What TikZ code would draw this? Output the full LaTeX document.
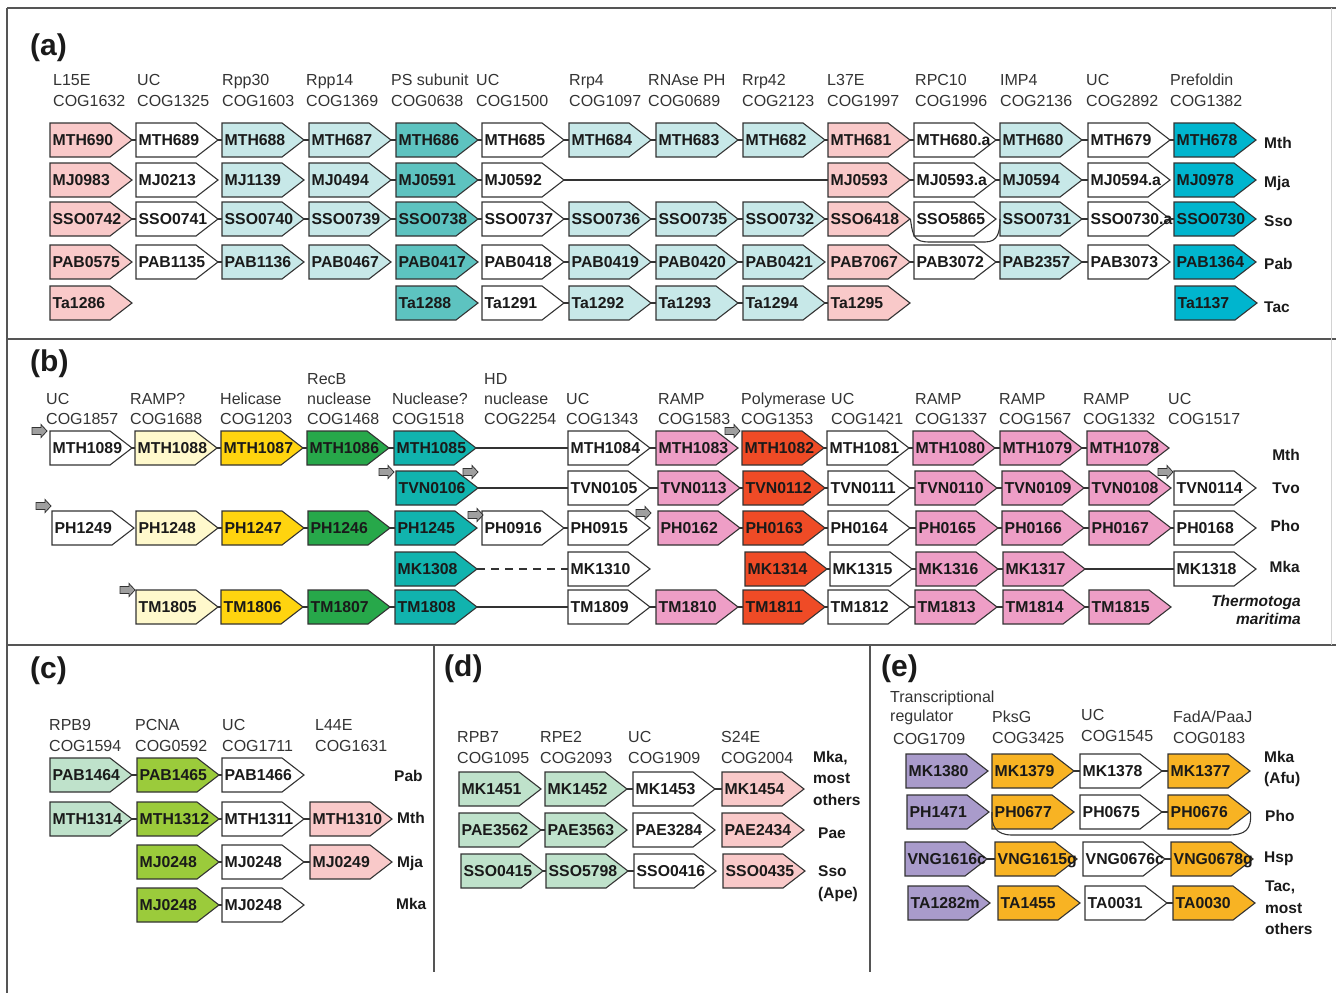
\documentclass[tikz,border=0pt]{standalone}
\usepackage{fontspec}
\setmainfont{Liberation Sans}
\definecolor{pinkA}{HTML}{F9C9C9}
\definecolor{lcyan}{HTML}{C7E8E8}
\definecolor{tealA}{HTML}{5DC3C0}
\definecolor{cyanA}{HTML}{00B5CE}
\definecolor{lyel}{HTML}{FFF9CC}
\definecolor{yelB}{HTML}{FFD40F}
\definecolor{grnB}{HTML}{27A84A}
\definecolor{tealB}{HTML}{11B3AE}
\definecolor{pinkB}{HTML}{EE9EC6}
\definecolor{redB}{HTML}{EF4B26}
\definecolor{lgrn}{HTML}{BFE2CB}
\definecolor{ygrn}{HTML}{9BCB3B}
\definecolor{lav}{HTML}{A99BCB}
\definecolor{orgE}{HTML}{F8B323}
\definecolor{linec}{HTML}{333333}
\definecolor{txtc}{HTML}{1A1A1A}
\definecolor{hdrc}{HTML}{333333}
\definecolor{framec}{HTML}{555555}
\tikzset{
  genefr/.style={draw=linec, line width=1.1pt, line join=miter},
  genetxt/.style={anchor=west, inner xsep=2.5pt, inner ysep=0pt, text width=77pt, align=left, minimum height=34pt, font=\fontsize{15.8}{18}\selectfont\bfseries, text=txtc, text height=11.4pt, text depth=0pt},
  conn/.style={draw=linec, line width=1.1pt},
  hdr/.style={anchor=west, inner sep=0pt, font=\fontsize{16}{19}\selectfont, text=hdrc, text height=11.5pt, text depth=0pt},
  spc/.style={anchor=west, inner sep=0pt, font=\fontsize{15.5}{18}\selectfont\bfseries, text=txtc, text height=11.1pt, text depth=0pt},
  spcr/.style={spc, anchor=east},
  plab/.style={anchor=west, inner sep=0pt, font=\fontsize{30}{34}\selectfont\bfseries, text=txtc},
  promo/.style={fill=gray!75, draw=linec, line width=0.8pt, line join=miter},
  framel/.style={draw=framec, line width=1.2pt},
}
\newcommand\gene[5]{%
  \filldraw[genefr, fill=#4] (#2,#3-17) -- (#2+60,#3-17) -- (#2+82,#3) -- (#2+60,#3+17) -- (#2,#3+17) -- cycle;
  \node[genetxt] (#1) at (#2,#3) {#5};}
\newcommand\cn[2]{\draw[conn] (#1.east) -- (#2.west);}
\newcommand\prom[2]{\filldraw[promo] (#1,#2-3.5) -- (#1+9,#2-3.5) -- (#1+9,#2-6.5) -- (#1+15,#2) -- (#1+9,#2+6.5) -- (#1+9,#2+3.5) -- (#1,#2+3.5) -- cycle;}
\newcommand\hdl[4]{\node[hdr] (#1) at (#2,#3) {#4};}
\begin{document}
\begin{tikzpicture}[x=1pt,y=-1pt]
\useasboundingbox (0,0) rectangle (1336,993);
% frame
\draw[framel] (7,8) -- (1336,8);
\draw[framel] (7,8) -- (7,993);
\draw[framel] (7,339) -- (1336,339);
\draw[framel] (7,645) -- (1336,645);
\draw[framel] (434,645) -- (434,972);
\draw[framel] (870,645) -- (870,972);
\draw[draw=gray!35, line width=0.8pt] (1331,8) -- (1331,645);
% panel labels
\node[plab] (pa) at (30,47.5) {(a)};
\node[plab] (pb) at (30,363.5) {(b)};
\node[plab] (pc) at (30,671) {(c)};
\node[plab] (pd) at (444,669) {(d)};
\node[plab] (pe) at (881,669) {(e)};
%================ panel a headers
\hdl{ha0x}{53}{79.5}{L15E}\hdl{ha0y}{53}{101}{COG1632}
\hdl{ha1x}{137}{79.5}{UC}\hdl{ha1y}{137}{101}{COG1325}
\hdl{ha2x}{222}{79.5}{Rpp30}\hdl{ha2y}{222}{101}{COG1603}
\hdl{ha3x}{306}{79.5}{Rpp14}\hdl{ha3y}{306}{101}{COG1369}
\hdl{ha4x}{391}{79.5}{PS subunit}\hdl{ha4y}{391}{101}{COG0638}
\hdl{ha5x}{476}{79.5}{UC}\hdl{ha5y}{476}{101}{COG1500}
\hdl{ha6x}{569}{79.5}{Rrp4}\hdl{ha6y}{569}{101}{COG1097}
\hdl{ha7x}{648}{79.5}{RNAse PH}\hdl{ha7y}{648}{101}{COG0689}
\hdl{ha8x}{742}{79.5}{Rrp42}\hdl{ha8y}{742}{101}{COG2123}
\hdl{ha9x}{827}{79.5}{L37E}\hdl{ha9y}{827}{101}{COG1997}
\hdl{ha10x}{915}{79.5}{RPC10}\hdl{ha10y}{915}{101}{COG1996}
\hdl{ha11x}{1000}{79.5}{IMP4}\hdl{ha11y}{1000}{101}{COG2136}
\hdl{ha12x}{1086}{79.5}{UC}\hdl{ha12y}{1086}{101}{COG2892}
\hdl{ha13x}{1170}{79.5}{Prefoldin}\hdl{ha13y}{1170}{101}{COG1382}
% row Mth
\gene{a1c0}{50}{140}{pinkA}{MTH690}
\gene{a1c1}{136}{140}{white}{MTH689}
\gene{a1c2}{222}{140}{lcyan}{MTH688}
\gene{a1c3}{309}{140}{lcyan}{MTH687}
\gene{a1c4}{396}{140}{tealA}{MTH686}
\gene{a1c5}{482}{140}{white}{MTH685}
\gene{a1c6}{569}{140}{lcyan}{MTH684}
\gene{a1c7}{656}{140}{lcyan}{MTH683}
\gene{a1c8}{743}{140}{lcyan}{MTH682}
\gene{a1c9}{828}{140}{pinkA}{MTH681}
\gene{a1c10}{914}{140}{white}{MTH680.a}
\gene{a1c11}{1000}{140}{lcyan}{MTH680}
\gene{a1c12}{1088}{140}{white}{MTH679}
\gene{a1c13}{1174}{140}{cyanA}{MTH678}
\cn{a1c0}{a1c1}\cn{a1c1}{a1c2}\cn{a1c2}{a1c3}\cn{a1c3}{a1c4}\cn{a1c4}{a1c5}\cn{a1c5}{a1c6}\cn{a1c6}{a1c7}
\cn{a1c7}{a1c8}\cn{a1c8}{a1c9}\cn{a1c9}{a1c10}\cn{a1c10}{a1c11}\cn{a1c11}{a1c12}\cn{a1c12}{a1c13}
% row Mja
\gene{a2c0}{50}{180}{pinkA}{MJ0983}
\gene{a2c1}{136}{180}{white}{MJ0213}
\gene{a2c2}{222}{180}{lcyan}{MJ1139}
\gene{a2c3}{309}{180}{lcyan}{MJ0494}
\gene{a2c4}{396}{180}{tealA}{MJ0591}
\gene{a2c5}{482}{180}{white}{MJ0592}
\gene{a2c9}{828}{180}{pinkA}{MJ0593}
\gene{a2c10}{914}{180}{white}{MJ0593.a}
\gene{a2c11}{1000}{180}{lcyan}{MJ0594}
\gene{a2c12}{1088}{180}{white}{MJ0594.a}
\gene{a2c13}{1174}{180}{cyanA}{MJ0978}
\cn{a2c3}{a2c4}\cn{a2c4}{a2c5}\cn{a2c5}{a2c9}\cn{a2c9}{a2c10}\cn{a2c10}{a2c11}\cn{a2c11}{a2c12}
% row Sso
\gene{a3c0}{50}{219}{pinkA}{SSO0742}
\gene{a3c1}{136}{219}{white}{SSO0741}
\gene{a3c2}{222}{219}{lcyan}{SSO0740}
\gene{a3c3}{309}{219}{lcyan}{SSO0739}
\gene{a3c4}{396}{219}{tealA}{SSO0738}
\gene{a3c5}{482}{219}{white}{SSO0737}
\gene{a3c6}{569}{219}{lcyan}{SSO0736}
\gene{a3c7}{656}{219}{lcyan}{SSO0735}
\gene{a3c8}{743}{219}{lcyan}{SSO0732}
\gene{a3c9}{828}{219}{pinkA}{SSO6418}
\gene{a3c10}{914}{219}{white}{SSO5865}
\gene{a3c11}{1000}{219}{lcyan}{SSO0731}
\gene{a3c12}{1088}{219}{white}{SSO0730.a}
\gene{a3c13}{1174}{219}{cyanA}{SSO0730}
\cn{a3c0}{a3c1}\cn{a3c1}{a3c2}\cn{a3c2}{a3c3}\cn{a3c3}{a3c4}\cn{a3c4}{a3c5}\cn{a3c5}{a3c6}\cn{a3c6}{a3c7}
\cn{a3c7}{a3c8}\cn{a3c8}{a3c9}\cn{a3c11}{a3c12}\cn{a3c12}{a3c13}
\draw[conn] (a3c9.east) .. controls (913,237) and (914,242) .. (930,242) -- (985,242) .. controls (998,242) and (1000,232) .. (a3c11.west);
% row Pab
\gene{a4c0}{50}{262}{pinkA}{PAB0575}
\gene{a4c1}{136}{262}{white}{PAB1135}
\gene{a4c2}{222}{262}{lcyan}{PAB1136}
\gene{a4c3}{309}{262}{lcyan}{PAB0467}
\gene{a4c4}{396}{262}{tealA}{PAB0417}
\gene{a4c5}{482}{262}{white}{PAB0418}
\gene{a4c6}{569}{262}{lcyan}{PAB0419}
\gene{a4c7}{656}{262}{lcyan}{PAB0420}
\gene{a4c8}{743}{262}{lcyan}{PAB0421}
\gene{a4c9}{828}{262}{pinkA}{PAB7067}
\gene{a4c10}{914}{262}{white}{PAB3072}
\gene{a4c11}{1000}{262}{lcyan}{PAB2357}
\gene{a4c12}{1088}{262}{white}{PAB3073}
\gene{a4c13}{1174}{262}{cyanA}{PAB1364}
\cn{a4c1}{a4c2}\cn{a4c5}{a4c6}\cn{a4c6}{a4c7}\cn{a4c7}{a4c8}\cn{a4c9}{a4c10}\cn{a4c10}{a4c11}\cn{a4c11}{a4c12}
% row Tac
\gene{a5c0}{50}{303}{pinkA}{Ta1286}
\gene{a5c4}{396}{303}{tealA}{Ta1288}
\gene{a5c5}{482}{303}{white}{Ta1291}
\gene{a5c6}{569}{303}{lcyan}{Ta1292}
\gene{a5c7}{656}{303}{lcyan}{Ta1293}
\gene{a5c8}{743}{303}{lcyan}{Ta1294}
\gene{a5c9}{828}{303}{pinkA}{Ta1295}
\gene{a5c13}{1175}{303}{cyanA}{Ta1137}
\cn{a5c5}{a5c6}\cn{a5c6}{a5c7}\cn{a5c7}{a5c8}\cn{a5c8}{a5c9}
% species a
\node[spc] (sa1) at (1264,142.5) {Mth};
\node[spc] (sa2) at (1264,182) {Mja};
\node[spc] (sa3) at (1264,220.5) {Sso};
\node[spc] (sa4) at (1264,263.5) {Pab};
\node[spc] (sa5) at (1264,307) {Tac};
%================ panel b headers
\hdl{hb0x}{46}{399}{UC}\hdl{hb0y}{46}{419}{COG1857}
\hdl{hb1x}{130}{399}{RAMP?}\hdl{hb1y}{130}{419}{COG1688}
\hdl{hb2x}{220}{399}{Helicase}\hdl{hb2y}{220}{419}{COG1203}
\hdl{hb3w}{307}{379}{RecB}\hdl{hb3x}{307}{399}{nuclease}\hdl{hb3y}{307}{419}{COG1468}
\hdl{hb4x}{392}{399}{Nuclease?}\hdl{hb4y}{392}{419}{COG1518}
\hdl{hb5w}{484}{379}{HD}\hdl{hb5x}{484}{399}{nuclease}\hdl{hb5y}{484}{419}{COG2254}
\hdl{hb6x}{566}{399}{UC}\hdl{hb6y}{566}{419}{COG1343}
\hdl{hb7x}{658}{399}{RAMP}\hdl{hb7y}{658}{419}{COG1583}
\hdl{hb8x}{741}{399}{Polymerase}\hdl{hb8y}{741}{419}{COG1353}
\hdl{hb9x}{831}{399}{UC}\hdl{hb9y}{831}{419}{COG1421}
\hdl{hb10x}{915}{399}{RAMP}\hdl{hb10y}{915}{419}{COG1337}
\hdl{hb11x}{999}{399}{RAMP}\hdl{hb11y}{999}{419}{COG1567}
\hdl{hb12x}{1083}{399}{RAMP}\hdl{hb12y}{1083}{419}{COG1332}
\hdl{hb13x}{1168}{399}{UC}\hdl{hb13y}{1168}{419}{COG1517}
% row Mth
\gene{b1c0}{50}{448}{white}{MTH1089}
\gene{b1c1}{135}{448}{lyel}{MTH1088}
\gene{b1c2}{221}{448}{yelB}{MTH1087}
\gene{b1c3}{307}{448}{grnB}{MTH1086}
\gene{b1c4}{394}{448}{tealB}{MTH1085}
\gene{b1c6}{568}{448}{white}{MTH1084}
\gene{b1c7}{656}{448}{pinkB}{MTH1083}
\gene{b1c8}{742}{448}{redB}{MTH1082}
\gene{b1c9}{827}{448}{white}{MTH1081}
\gene{b1c10}{913}{448}{pinkB}{MTH1080}
\gene{b1c11}{1000}{448}{pinkB}{MTH1079}
\gene{b1c12}{1087}{448}{pinkB}{MTH1078}
\cn{b1c0}{b1c1}\cn{b1c1}{b1c2}\cn{b1c2}{b1c3}\cn{b1c3}{b1c4}\cn{b1c4}{b1c6}\cn{b1c6}{b1c7}
\cn{b1c8}{b1c9}\cn{b1c9}{b1c10}\cn{b1c10}{b1c11}\cn{b1c11}{b1c12}
% row Tvo
\gene{b2c4}{396}{488}{tealB}{TVN0106}
\gene{b2c6}{568}{488}{white}{TVN0105}
\gene{b2c7}{658}{488}{pinkB}{TVN0113}
\gene{b2c8}{743}{488}{redB}{TVN0112}
\gene{b2c9}{828}{488}{white}{TVN0111}
\gene{b2c10}{915}{488}{pinkB}{TVN0110}
\gene{b2c11}{1002}{488}{pinkB}{TVN0109}
\gene{b2c12}{1089}{488}{pinkB}{TVN0108}
\gene{b2c13}{1174}{488}{white}{TVN0114}
\cn{b2c4}{b2c6}\cn{b2c6}{b2c7}\cn{b2c7}{b2c8}\cn{b2c8}{b2c9}\cn{b2c9}{b2c10}\cn{b2c10}{b2c11}\cn{b2c11}{b2c12}
% row Pho
\gene{b3c0}{52}{528}{white}{PH1249}
\gene{b3c1}{136}{528}{lyel}{PH1248}
\gene{b3c2}{222}{528}{yelB}{PH1247}
\gene{b3c3}{308}{528}{grnB}{PH1246}
\gene{b3c4}{395}{528}{tealB}{PH1245}
\gene{b3c5}{482}{528}{white}{PH0916}
\gene{b3c6}{568}{528}{white}{PH0915}
\gene{b3c7}{658}{528}{pinkB}{PH0162}
\gene{b3c8}{743}{528}{redB}{PH0163}
\gene{b3c9}{828}{528}{white}{PH0164}
\gene{b3c10}{916}{528}{pinkB}{PH0165}
\gene{b3c11}{1002}{528}{pinkB}{PH0166}
\gene{b3c12}{1089}{528}{pinkB}{PH0167}
\gene{b3c13}{1174}{528}{white}{PH0168}
\cn{b3c1}{b3c2}\cn{b3c2}{b3c3}\cn{b3c3}{b3c4}\cn{b3c5}{b3c6}\cn{b3c7}{b3c8}\cn{b3c8}{b3c9}
\cn{b3c9}{b3c10}\cn{b3c10}{b3c11}\cn{b3c11}{b3c12}\cn{b3c12}{b3c13}
% row Mka
\gene{b4c4}{395}{569}{tealB}{MK1308}
\gene{b4c6}{568}{569}{white}{MK1310}
\gene{b4c8}{745}{569}{redB}{MK1314}
\gene{b4c9}{830}{569}{white}{MK1315}
\gene{b4c10}{916}{569}{pinkB}{MK1316}
\gene{b4c11}{1003}{569}{pinkB}{MK1317}
\gene{b4c13}{1174}{569}{white}{MK1318}
\draw[conn, dash pattern=on 8pt off 6pt] (b4c4.east) -- (b4c6.west);
\cn{b4c8}{b4c9}\cn{b4c9}{b4c10}\cn{b4c10}{b4c11}\cn{b4c11}{b4c13}
% row Tma
\gene{b5c1}{136}{607}{lyel}{TM1805}
\gene{b5c2}{221}{607}{yelB}{TM1806}
\gene{b5c3}{308}{607}{grnB}{TM1807}
\gene{b5c4}{395}{607}{tealB}{TM1808}
\gene{b5c6}{568}{607}{white}{TM1809}
\gene{b5c7}{656}{607}{pinkB}{TM1810}
\gene{b5c8}{743}{607}{redB}{TM1811}
\gene{b5c9}{828}{607}{white}{TM1812}
\gene{b5c10}{915}{607}{pinkB}{TM1813}
\gene{b5c11}{1003}{607}{pinkB}{TM1814}
\gene{b5c12}{1089}{607}{pinkB}{TM1815}
\cn{b5c1}{b5c2}\cn{b5c2}{b5c3}\cn{b5c3}{b5c4}\cn{b5c4}{b5c6}\cn{b5c6}{b5c7}\cn{b5c7}{b5c8}
\cn{b5c8}{b5c9}\cn{b5c9}{b5c10}\cn{b5c10}{b5c11}\cn{b5c11}{b5c12}
% promoters
\prom{32}{431}\prom{725}{431}\prom{379}{472}\prom{463}{472}\prom{1158}{472}
\prom{36}{506}\prom{468}{515}\prom{636}{513}\prom{120}{590}
% species b
\node[spcr] (sb1) at (1300,455) {Mth};
\node[spcr] (sb2) at (1300,488) {Tvo};
\node[spcr] (sb3) at (1300,526) {Pho};
\node[spcr] (sb4) at (1300,567) {Mka};
\node[spcr, font=\fontsize{15.5}{18}\selectfont\bfseries\itshape] (sb5) at (1301,601) {Thermotoga};
\node[spcr, font=\fontsize{15.5}{18}\selectfont\bfseries\itshape] (sb6) at (1301,618.5) {maritima};
%================ panel c
\hdl{hc0x}{49}{724.5}{RPB9}\hdl{hc0y}{49}{746}{COG1594}
\hdl{hc1x}{135}{724.5}{PCNA}\hdl{hc1y}{135}{746}{COG0592}
\hdl{hc2x}{222}{724.5}{UC}\hdl{hc2y}{222}{746}{COG1711}
\hdl{hc3x}{315}{724.5}{L44E}\hdl{hc3y}{315}{746}{COG1631}
\gene{c1c0}{50}{775}{lgrn}{PAB1464}
\gene{c1c1}{137}{775}{ygrn}{PAB1465}
\gene{c1c2}{222}{775}{white}{PAB1466}
\cn{c1c0}{c1c1}\cn{c1c1}{c1c2}
\gene{c2c0}{50}{819}{lgrn}{MTH1314}
\gene{c2c1}{137}{819}{ygrn}{MTH1312}
\gene{c2c2}{222}{819}{white}{MTH1311}
\gene{c2c3}{310}{819}{pinkA}{MTH1310}
\cn{c2c0}{c2c1}\cn{c2c1}{c2c2}\cn{c2c2}{c2c3}
\gene{c3c1}{137}{862}{ygrn}{MJ0248}
\gene{c3c2}{222}{862}{white}{MJ0248}
\gene{c3c3}{310}{862}{pinkA}{MJ0249}
\cn{c3c1}{c3c2}\cn{c3c2}{c3c3}
\gene{c4c1}{137}{905}{ygrn}{MJ0248}
\gene{c4c2}{222}{905}{white}{MJ0248}
\cn{c4c1}{c4c2}
\node[spc] (sc1) at (394,776) {Pab};
\node[spc] (sc2) at (397,818) {Mth};
\node[spc] (sc3) at (397,862) {Mja};
\node[spc] (sc4) at (396,904) {Mka};
%================ panel d
\hdl{hd0x}{457}{737}{RPB7}\hdl{hd0y}{457}{758}{COG1095}
\hdl{hd1x}{540}{737}{RPE2}\hdl{hd1y}{540}{758}{COG2093}
\hdl{hd2x}{628}{737}{UC}\hdl{hd2y}{628}{758}{COG1909}
\hdl{hd3x}{721}{737}{S24E}\hdl{hd3y}{721}{758}{COG2004}
\gene{d1c0}{459}{789}{lgrn}{MK1451}
\gene{d1c1}{545}{789}{lgrn}{MK1452}
\gene{d1c2}{633}{789}{white}{MK1453}
\gene{d1c3}{722}{789}{pinkA}{MK1454}
\cn{d1c1}{d1c2}\cn{d1c2}{d1c3}
\gene{d2c0}{459}{830}{lgrn}{PAE3562}
\gene{d2c1}{545}{830}{lgrn}{PAE3563}
\gene{d2c2}{633}{830}{white}{PAE3284}
\gene{d2c3}{722}{830}{pinkA}{PAE2434}
\cn{d2c0}{d2c1}
\gene{d3c0}{461}{871}{lgrn}{SSO0415}
\gene{d3c1}{546}{871}{lgrn}{SSO5798}
\gene{d3c2}{634}{871}{white}{SSO0416}
\gene{d3c3}{723}{871}{pinkA}{SSO0435}
\cn{d3c0}{d3c1}\cn{d3c1}{d3c2}
\node[spc] (sd1) at (813,757) {Mka,};
\node[spc] (sd2) at (813,778) {most};
\node[spc] (sd3) at (813,800) {others};
\node[spc] (sd4) at (818,833) {Pae};
\node[spc] (sd5) at (818,871) {Sso};
\node[spc] (sd6) at (818,893) {(Ape)};
%================ panel e
\hdl{he0w}{890}{697}{Transcriptional}\hdl{he0x}{890}{716}{regulator}\hdl{he0y}{893}{739}{COG1709}
\hdl{he1x}{992}{717}{PksG}\hdl{he1y}{992}{738}{COG3425}
\hdl{he2x}{1081}{715}{UC}\hdl{he2y}{1081}{736}{COG1545}
\hdl{he3x}{1173}{717}{FadA/PaaJ}\hdl{he3y}{1173}{738}{COG0183}
\gene{e1c0}{906}{771}{lav}{MK1380}
\gene{e1c1}{992}{771}{orgE}{MK1379}
\gene{e1c2}{1080}{771}{white}{MK1378}
\gene{e1c3}{1168}{771}{orgE}{MK1377}
\cn{e1c1}{e1c2}\cn{e1c2}{e1c3}
\gene{e2c0}{907}{812}{lav}{PH1471}
\gene{e2c1}{992}{812}{orgE}{PH0677}
\gene{e2c2}{1080}{812}{white}{PH0675}
\gene{e2c3}{1168}{812}{orgE}{PH0676}
\cn{e2c2}{e2c3}
\draw[conn] (e2c3.east) .. controls (1252,830) and (1245,835) .. (1228,835) -- (1012,835) .. controls (996,835) and (991,826) .. (e2c1.west);
\gene{e3c0}{905}{859}{lav}{VNG1616c}
\gene{e3c1}{995}{859}{orgE}{VNG1615g}
\gene{e3c2}{1083}{859}{white}{VNG0676c}
\gene{e3c3}{1171}{859}{orgE}{VNG0678g}
\cn{e3c0}{e3c1}\cn{e3c2}{e3c3}
\gene{e4c0}{908}{903}{lav}{TA1282m}
\gene{e4c1}{998}{903}{orgE}{TA1455}
\gene{e4c2}{1085}{903}{white}{TA0031}
\gene{e4c3}{1173}{903}{orgE}{TA0030}
\cn{e4c2}{e4c3}
\node[spc] (se1) at (1264,757) {Mka};
\node[spc] (se2) at (1264,778) {(Afu)};
\node[spc] (se3) at (1265,816) {Pho};
\node[spc] (se4) at (1264,857) {Hsp};
\node[spc] (se5) at (1265,886) {Tac,};
\node[spc] (se6) at (1265,908) {most};
\node[spc] (se7) at (1265,929) {others};
\end{tikzpicture}
\end{document}
